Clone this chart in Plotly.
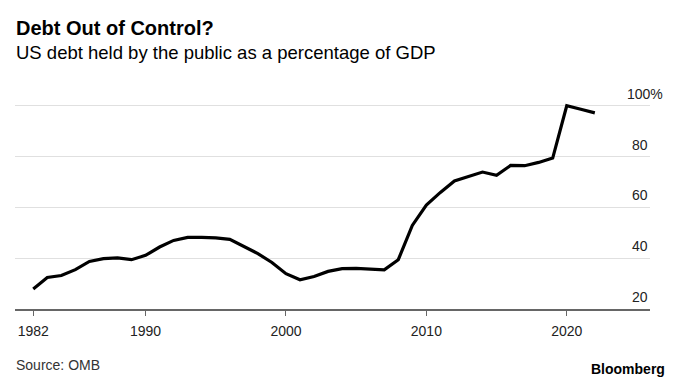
import plotly.graph_objects as go

years = list(range(1982, 2023))
debt_pct = [27.9, 32.4, 33.2, 35.5, 38.7, 39.8, 40.1, 39.4, 41.1, 44.4,
            47.0, 48.2, 48.2, 48.0, 47.4, 44.6, 41.8, 38.3, 33.9, 31.5,
            32.8, 34.8, 35.9, 36.0, 35.7, 35.4, 39.4, 52.9, 60.9, 65.9,
            70.4, 72.2, 73.9, 72.6, 76.5, 76.4, 77.7, 79.4, 100.0, 98.6,
            97.2]
x_ticks = [1982, 1990, 2000, 2010, 2020]
y_ticks = [20, 40, 60, 80, 100]
y_labels = ["20", "40", "60", "80", "100%"]

title = "Debt Out of Control?"
subtitle = "US debt held by the public as a percentage of GDP"
source = "Source: OMB"
brand = "Bloomberg"

FONT = "Liberation Sans, Arial, sans-serif"

fig = go.Figure()
fig.add_trace(go.Scatter(
    x=years, y=debt_pct, mode="lines",
    line=dict(color="#000000", width=3.2),
    hoverinfo="skip", showlegend=False,
))

ann = []
for v, lab in zip(y_ticks, y_labels):
    shift = 15 if lab.endswith("%") else 0
    ann.append(dict(x=1, xref="paper", y=v, yref="y", text=lab,
                    showarrow=False, xanchor="right", yanchor="middle",
                    xshift=shift, yshift=12,
                    font=dict(family=FONT, size=14, color="#222")))

ann.append(dict(x=0, xref="paper", y=1.285, yref="paper", text="<b>" + title + "</b>",
                showarrow=False, xanchor="left", yanchor="middle", xshift=-1,
                font=dict(family=FONT, size=20, color="#000")))
ann.append(dict(x=0, xref="paper", y=1.171, yref="paper", text=subtitle,
                showarrow=False, xanchor="left", yanchor="middle", xshift=-1,
                font=dict(family=FONT, size=18.5, color="#000")))
ann.append(dict(x=0, xref="paper", y=-0.257, yref="paper", text=source,
                showarrow=False, xanchor="left", yanchor="middle", xshift=-1,
                font=dict(family=FONT, size=14, color="#333")))
ann.append(dict(x=1.0263, xref="paper", y=-0.2736, yref="paper", text="<b>" + brand + "</b>",
                showarrow=False, xanchor="right", yanchor="middle",
                font=dict(family=FONT, size=14, color="#000")))

fig.update_layout(
    width=671, height=378,
    margin=dict(l=7, r=29, t=82, b=76.7),
    paper_bgcolor="white", plot_bgcolor="white",
    annotations=ann,
    xaxis=dict(range=[1980.70, 2025.93], tickvals=x_ticks,
               ticktext=[str(t) for t in x_ticks],
               showgrid=False, zeroline=False,
               showline=True, linecolor="#666", linewidth=1.5,
               ticks="outside", ticklen=5, tickcolor="#666", tickwidth=1,
               ticklabelstandoff=3,
               tickfont=dict(family=FONT, size=14, color="#222"),
               fixedrange=True),
    yaxis=dict(range=[20, 106.2], tickvals=y_ticks, showticklabels=False,
               showgrid=True, gridcolor="#e0e0e0", gridwidth=1,
               zeroline=False, showline=False, fixedrange=True),
)

fig.write_html("out.html")
